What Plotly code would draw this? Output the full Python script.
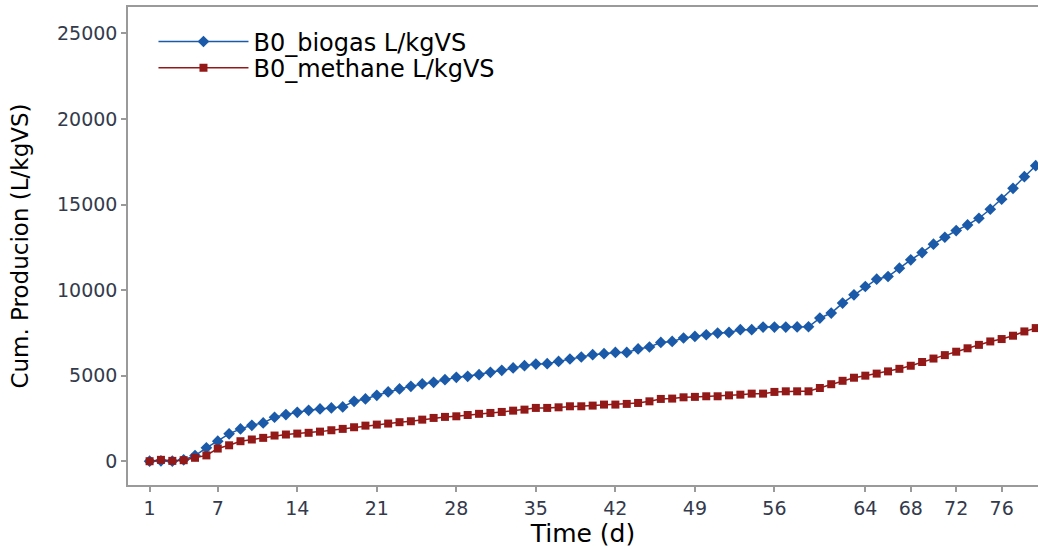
import plotly.graph_objects as go

days = list(range(1, 80))

biogas = [0, 20, 0, 80, 330, 780, 1170, 1600, 1890, 2100,
          2240, 2570, 2725, 2860, 2975, 3055, 3115, 3175, 3500, 3640,
          3850, 4050, 4225, 4375, 4515, 4610, 4765, 4900, 4960, 5060,
          5195, 5310, 5450, 5585, 5680, 5700, 5835, 5975, 6090, 6225,
          6285, 6360, 6360, 6560, 6675, 6945, 7000, 7200, 7295, 7390,
          7490, 7525, 7685, 7685, 7840, 7840, 7840, 7850, 7860, 8365,
          8660, 9240, 9725, 10210, 10640, 10795, 11280, 11770, 12195, 12685,
          13090, 13480, 13810, 14200, 14725, 15310, 15950, 16630, 17270]

methane = [0, 80, 20, 60, 200, 340, 740, 930, 1170, 1270,
           1365, 1500, 1560, 1615, 1660, 1730, 1810, 1890, 1985, 2080,
           2140, 2200, 2280, 2335, 2430, 2530, 2590, 2625, 2700, 2770,
           2820, 2880, 2955, 3015, 3115, 3115, 3150, 3210, 3210, 3250,
           3310, 3310, 3350, 3405, 3500, 3640, 3660, 3735, 3760, 3795,
           3795, 3850, 3890, 3950, 3950, 4050, 4085, 4085, 4085, 4280,
           4500, 4700, 4880, 5000, 5120, 5250, 5400, 5580, 5800, 6000,
           6200, 6400, 6600, 6800, 7000, 7140, 7335, 7585, 7780]

x_ticks = [1, 7, 14, 21, 28, 35, 42, 49, 56, 64, 68, 72, 76]
y_ticks = [0, 5000, 10000, 15000, 20000, 25000]

BLUE = "#1a5aa8"
RED = "#931818"
TICK_COLOR = "#333a4c"
AXIS_COLOR = "#9a9a9a"
FONT = "DejaVu Sans, Liberation Sans, Arial, sans-serif"

fig = go.Figure()
fig.add_trace(go.Scatter(
    x=days, y=biogas, mode="lines+markers", name="B0_biogas L/kgVS",
    line=dict(color=BLUE, width=1.5),
    marker=dict(symbol="diamond", size=9, color=BLUE),
    legend="legend", showlegend=True,
))
fig.add_trace(go.Scatter(
    x=days, y=methane, mode="lines+markers", name="B0_methane L/kgVS",
    line=dict(color=RED, width=1.5),
    marker=dict(symbol="square", size=8, color=RED),
    legend="legend2", showlegend=True,
))

legend_common = dict(
    xanchor="left", yanchor="middle",
    font=dict(size=24, color="black", family=FONT),
    bgcolor="rgba(0,0,0,0)", itemwidth=90,
)

fig.update_layout(
    width=1039, height=550,
    margin=dict(l=128, r=1, t=7, b=65),
    paper_bgcolor="white", plot_bgcolor="white",
    font=dict(family=FONT, color="black"),
    showlegend=True,
    legend=dict(x=0.028, y=0.927, **legend_common),
    legend2=dict(x=0.028, y=0.872, **legend_common),
    xaxis=dict(
        range=[-0.9, 79.2],
        tickmode="array", tickvals=x_ticks, ticktext=[str(v) for v in x_ticks],
        showgrid=False, zeroline=False,
        showline=True, linecolor=AXIS_COLOR, linewidth=1.5, mirror=True,
        ticks="outside", ticklen=5, tickcolor=AXIS_COLOR, tickwidth=1.5,
        tickfont=dict(size=19, color=TICK_COLOR, family=FONT),
        title=dict(text="Time (d)", font=dict(size=25, color="black", family=FONT), standoff=0),
        automargin=False,
    ),
    yaxis=dict(
        range=[-1390, 26546],
        tickmode="array", tickvals=y_ticks, ticktext=[str(v) for v in y_ticks],
        showgrid=False, zeroline=False,
        showline=True, linecolor=AXIS_COLOR, linewidth=1.5,
        ticks="outside", ticklen=5, tickcolor=AXIS_COLOR, tickwidth=1.5,
        tickfont=dict(size=19, color=TICK_COLOR, family=FONT),
        title=dict(text="Cum. Producion (L/kgVS)", font=dict(size=23, color="black", family=FONT), standoff=22),
        automargin=False,
    ),
)

fig.write_html(
    "out.html",
    config={"displayModeBar": False},
    post_script="document.body.style.margin='0';document.body.style.overflow='hidden';",
)
